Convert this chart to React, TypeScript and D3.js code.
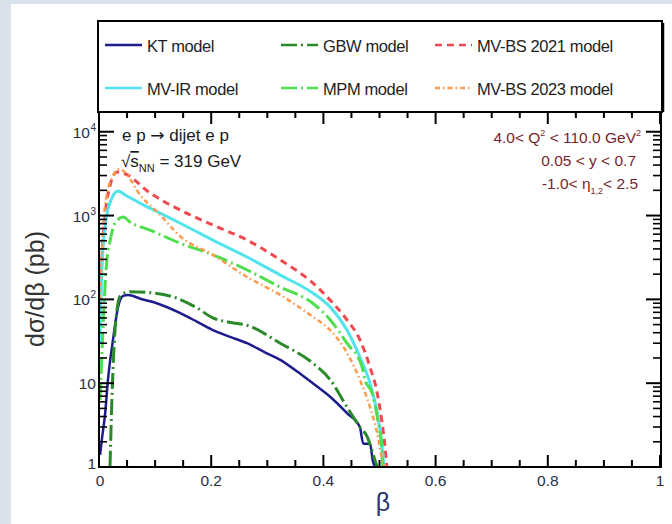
import React from "react";
import * as d3 from "d3";

// beta values and dsigma/dbeta (pb)
const ktBeta = [0.002, 0.005, 0.011, 0.016, 0.025, 0.034, 0.043, 0.052, 0.075, 0.103, 0.144, 0.175, 0.203, 0.235, 0.264, 0.295, 0.323, 0.352, 0.381, 0.412, 0.442, 0.465, 0.471, 0.483, 0.488, 0.492];
const ktVals = [1.4, 2.1, 4.4, 11, 33, 81, 110, 113, 101, 90, 69, 54, 43, 35.5, 30, 23.5, 19, 14, 10, 6.9, 4.4, 3.0, 1.9, 1.9, 1.2, 1];

const gbwBeta = [0.0196, 0.023, 0.027, 0.032, 0.039, 0.055, 0.091, 0.132, 0.175, 0.203, 0.235, 0.264, 0.323, 0.381, 0.412, 0.442, 0.465, 0.478, 0.492, 0.496];
const gbwVals = [1, 6.3, 29, 75, 113, 123, 120, 107, 79, 60, 53, 49, 30, 17.4, 11, 5.2, 3.0, 2.3, 1.2, 1];

const bs21Beta = [0.001, 0.005, 0.011, 0.02, 0.032, 0.046, 0.091, 0.144, 0.203, 0.264, 0.323, 0.381, 0.412, 0.442, 0.465, 0.483, 0.496, 0.504, 0.51, 0.513];
const bs21Vals = [43, 295, 1020, 2330, 3300, 3150, 1860, 1170, 770, 510, 296, 157, 98, 57, 33, 15.6, 7.6, 3.6, 1.7, 1];

const irBeta = [0.001, 0.005, 0.0125, 0.023, 0.034, 0.046, 0.073, 0.109, 0.144, 0.203, 0.264, 0.323, 0.381, 0.412, 0.442, 0.465, 0.483, 0.496, 0.504, 0.508];
const irVals = [30, 224, 890, 1620, 1960, 1770, 1410, 1070, 815, 510, 320, 195, 119, 81, 43, 20.5, 10, 4.4, 1.9, 1];

const mpmBeta = [0.002, 0.007, 0.0125, 0.02, 0.03, 0.043, 0.055, 0.091, 0.144, 0.203, 0.264, 0.323, 0.381, 0.412, 0.442, 0.469, 0.474, 0.487, 0.497, 0.504, 0.506];
const mpmVals = [6.3, 43, 224, 510, 840, 960, 840, 670, 470, 340, 224, 140, 90, 57, 30, 15.6, 11, 7.6, 3.6, 1.7, 1];

const bs23Beta = [0.002, 0.007, 0.014, 0.023, 0.037, 0.046, 0.073, 0.109, 0.144, 0.203, 0.264, 0.323, 0.381, 0.412, 0.442, 0.465, 0.483, 0.496, 0.504, 0.51];
const bs23Vals = [100, 670, 1780, 2800, 3600, 3300, 1770, 1020, 570, 340, 185, 113, 62, 43, 23, 11, 5.2, 2.5, 1.3, 1];

const xTicks = [0, 0.2, 0.4, 0.6, 0.8, 1];
const xTickLabels = ["0", "0.2", "0.4", "0.6", "0.8", "1"];
const yTicks = [1, 10, 100, 1000, 10000];
const yTickExp = ["", "", "2", "3", "4"];
const yTickBase = ["1", "10", "10", "10", "10"];

const series = [
  { name: "KT model", beta: ktBeta, vals: ktVals, color: "#1c1c8c", dash: "", width: 2.5 },
  { name: "GBW model", beta: gbwBeta, vals: gbwVals, color: "#2a8a2a", dash: "16,4,2,4", width: 3 },
  { name: "MV-BS 2021 model", beta: bs21Beta, vals: bs21Vals, color: "#ef4a4f", dash: "7,5", width: 3 },
  { name: "MV-IR model", beta: irBeta, vals: irVals, color: "#52e4ec", dash: "", width: 3 },
  { name: "MPM model", beta: mpmBeta, vals: mpmVals, color: "#4ede4e", dash: "16,4,2,4", width: 3 },
  { name: "MV-BS 2023 model", beta: bs23Beta, vals: bs23Vals, color: "#ff9a4c", dash: "5,3,1.5,3", width: 2.5 },
];

const FONT = "'Liberation Sans', Arial, sans-serif";

export default function App() {
  const left = 99, right = 660, top = 112, bottom = 467;
  const x = d3.scaleLinear().domain([0, 1]).range([left, right]);
  const y = d3.scaleLog().domain([1, 17200]).range([bottom, top]);

  const xMinor = d3.range(0, 1.0001, 0.05).filter((v) => Math.abs(v * 5 - Math.round(v * 5)) > 1e-6);
  const yMinor: number[] = [];
  for (let e = 0; e < 5; e++) for (let m = 2; m < 10; m++) {
    const v = m * Math.pow(10, e);
    if (v < 17200) yMinor.push(v);
  }

  const line = (b: number[], v: number[]) =>
    d3.line<number>().x((_, i) => x(b[i])).y((_, i) => y(v[i])).curve(d3.curveMonotoneX)(b) || "";

  const legCols = [105, 281, 435];
  const legRows = [45, 88];

  return (
    <svg width={672} height={524} style={{ position: "absolute", left: 0, top: 0 }} fontFamily={FONT}>
      <rect width={672} height={524} fill="#d9e1ec" />
      <rect x={11} y={4} width={661} height={520} fill="#ffffff" />
      <defs>
        <clipPath id="plotclip">
          <rect x={left} y={top} width={right - left + 1} height={bottom - top} />
        </clipPath>
      </defs>

      {/* legend */}
      <rect x={98} y={21} width={564} height={91} fill="#fff" stroke="#000" strokeWidth={2} />
      <line x1={663} x2={663} y1={23} y2={112} stroke="#000" strokeWidth={2.5} />
      {series.map((s, i) => {
        const cx = legCols[i % 3];
        const cy = legRows[Math.floor(i / 3)];
        return (
          <g key={s.name}>
            <line x1={cx} x2={cx + 37} y1={cy} y2={cy} stroke={s.color} strokeWidth={2.5} strokeDasharray={s.dash} />
            <text x={cx + 42} y={cy + 6.5} fontSize={16.5} fill="#1e1e1e" letterSpacing={-0.4}>{s.name}</text>
          </g>
        );
      })}

      {/* curves */}
      <g clipPath="url(#plotclip)">
        {series.map((s) => (
          <path key={s.name} d={line(s.beta, s.vals)} fill="none" stroke={s.color} strokeWidth={s.width} strokeDasharray={s.dash} strokeLinejoin="round" />
        ))}
      </g>

      {/* frame */}
      <rect x={left} y={top} width={right - left + 1} height={bottom - top} fill="none" stroke="#000" strokeWidth={2} />

      {/* x ticks */}
      {xTicks.map((t) => (
        <g key={"xt" + t}>
          <line x1={x(t)} x2={x(t)} y1={bottom} y2={bottom - 12} stroke="#000" strokeWidth={2} />
          <line x1={x(t)} x2={x(t)} y1={top} y2={top + 12} stroke="#000" strokeWidth={2} />
        </g>
      ))}
      {xMinor.map((t) => (
        <g key={"xm" + t}>
          <line x1={x(t)} x2={x(t)} y1={bottom} y2={bottom - 7} stroke="#000" strokeWidth={2} />
          <line x1={x(t)} x2={x(t)} y1={top} y2={top + 6} stroke="#000" strokeWidth={2} />
        </g>
      ))}
      {xTicks.map((t, i) => (
        <text key={"xl" + t} x={x(t) + (i === 0 ? 1 : 0)} y={486} fontSize={15.5} textAnchor="middle" fill="#2d2d44">{xTickLabels[i]}</text>
      ))}

      {/* y ticks */}
      {yTicks.map((t) => (
        <g key={"yt" + t}>
          <line x1={left} x2={left + 15} y1={y(t)} y2={y(t)} stroke="#000" strokeWidth={2} />
          <line x1={right} x2={right - 14} y1={y(t)} y2={y(t)} stroke="#000" strokeWidth={2} />
        </g>
      ))}
      {yMinor.map((t) => (
        <g key={"ym" + t}>
          <line x1={left} x2={left + 8} y1={y(t)} y2={y(t)} stroke="#000" strokeWidth={1.6} />
          <line x1={right} x2={right - 7} y1={y(t)} y2={y(t)} stroke="#000" strokeWidth={1.6} />
        </g>
      ))}
      {yTicks.map((t, i) => (
        <text key={"yl" + t} x={yTickExp[i] ? 90 : 96} y={y(t) + (i === 0 ? 2 : 6)} fontSize={15.5} textAnchor="end" fill="#2d2d44">
          {yTickBase[i]}
        </text>
      ))}
      {yTicks.map((t, i) =>
        yTickExp[i] ? (
          <text key={"ye" + t} x={90.5} y={y(t) - 1} fontSize={10} fill="#2d2d44">{yTickExp[i]}</text>
        ) : null
      )}

      {/* axis titles */}
      <text transform="translate(44,289) rotate(-90)" textAnchor="middle" fontSize={25} fill="#333">dσ/dβ (pb)</text>
      <text x={383} y={511} textAnchor="middle" fontSize={25} fill="#2b3570">β</text>

      {/* annotations */}
      <text x={122} y={141} fontSize={17} fill="#1a1a1a">
        <tspan>e p </tspan>
        <tspan fontFamily="'DejaVu Sans', sans-serif" fontSize={17}>→</tspan>
        <tspan> dijet e p</tspan>
      </text>
      <text x={121} y={167} fontSize={17} fill="#1a1a1a">
        <tspan>√</tspan>
        <tspan textDecoration="overline">s</tspan>
        <tspan fontSize={11} dy={5}>NN</tspan>
        <tspan dy={-5}> = 319 GeV</tspan>
      </text>

      <text x={641} y={143} fontSize={15.5} textAnchor="end" fill="#7a1f2c">
        <tspan>4.0&lt; Q</tspan>
        <tspan fontSize={9} dy={-7}>2</tspan>
        <tspan dy={7}> &lt; 110.0 GeV</tspan>
        <tspan fontSize={9} dy={-7}>2</tspan>
      </text>
      <text x={636} y={166} fontSize={15.5} textAnchor="end" fill="#7a1f2c">0.05 &lt; y &lt; 0.7</text>
      <text x={638} y={189} fontSize={15.5} textAnchor="end" fill="#7a1f2c">
        <tspan>-1.0&lt; η</tspan>
        <tspan fontSize={9} dy={5}>1,2</tspan>
        <tspan dy={-5}>&lt; 2.5</tspan>
      </text>
    </svg>
  );
}
